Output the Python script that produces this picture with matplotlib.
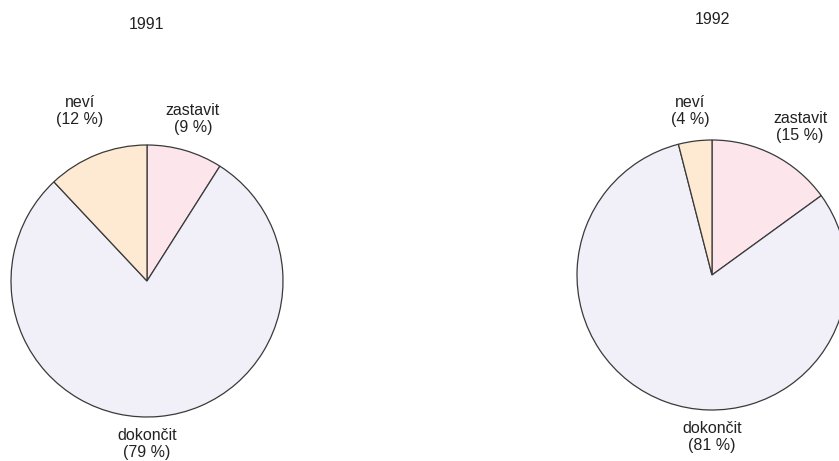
import matplotlib.pyplot as plt

# data
years = ["1991", "1992"]
labels = ["zastavit", "dokončit", "neví"]
values_1991 = [9, 79, 12]
values_1992 = [15, 81, 4]
colors = ["#fce5eb", "#f1f0f9", "#feead2"]

plt.rcParams['font.family'] = ['Liberation Sans Narrow', 'Liberation Sans', 'DejaVu Sans']

fig = plt.figure(figsize=(8.39, 4.61), dpi=100)
ax = fig.add_axes([0, 0, 1, 1])

# pie layout in pixel coords
centers = [(147, 461 - 281), (712, 461 - 275)]
radii = [136, 135]
title_pos = [(147, 461 - 25), (712, 461 - 20)]
# label offsets (dx, dy) from pie centre, in pixels
label_off = [
    [(46, 162), (0, -163), (-67, 170)],
    [(88, 148), (0, -162), (-22, 164)],
]

for k, vals in enumerate([values_1991, values_1992]):
    ax.pie(vals, colors=colors, startangle=90, counterclock=False,
           center=centers[k], radius=radii[k],
           wedgeprops=dict(edgecolor="#3a3a3a", linewidth=0.9))
    cx, cy = centers[k]
    ax.text(title_pos[k][0], title_pos[k][1], years[k], ha="center", va="center",
            fontsize=11.5, color="#222222")
    for j, lab in enumerate(labels):
        dx, dy = label_off[k][j]
        ax.text(cx + dx, cy + dy, "%s\n(%d %%)" % (lab, vals[j]), ha="center",
                va="center", fontsize=11.5, color="#222222", linespacing=1.2)

ax.set_xlim(0, 839)
ax.set_ylim(0, 461)
ax.set_aspect("equal")
ax.axis("off")

fig.savefig("out.png", dpi=100)
